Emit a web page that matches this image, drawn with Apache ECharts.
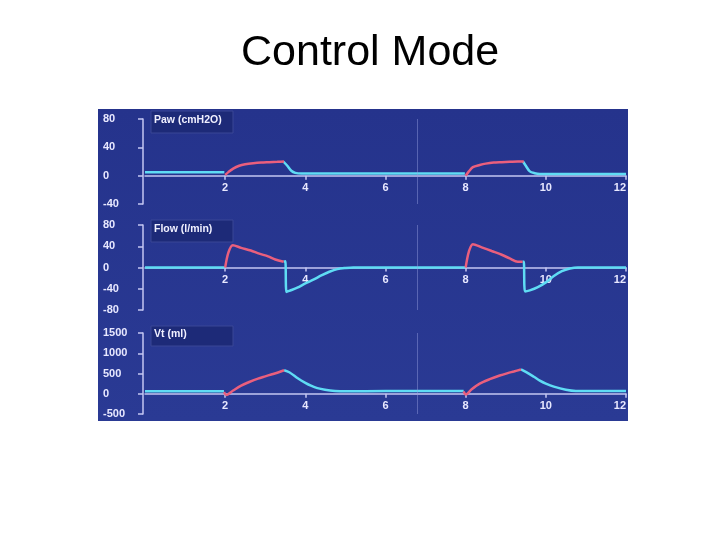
<!DOCTYPE html>
<html>
<head>
<meta charset="utf-8">
<script src="https://cdn.jsdelivr.net/npm/echarts@6/dist/echarts.min.js"></script>
<style>html,body{margin:0;padding:0;background:#fff;}#c{width:720px;height:540px;}</style>
</head>
<body>
<div id="c"></div>
<script>
// ---- data (time in s) ----
const xTicks = [0, 2, 4, 6, 8, 10, 12];

// Paw (cmH2O)
const pawExpT = [0, 1.0, 1.98, null, 3.45, 3.55, 3.65, 3.75, 3.9, 5, 6, 7, 7.98, null, 9.43, 9.5, 9.6, 9.72, 9.85, 11, 12];
const pawExpV = [5, 5, 5, null, 20, 14, 7, 4, 3, 3, 3, 3, 3, null, 20, 14, 6, 3.5, 2.5, 2.5, 2.5];
const pawInsp1T = [2.0, 2.08, 2.2, 2.35, 2.5, 2.7, 2.9, 3.1, 3.3, 3.47];
const pawInsp1V = [1, 5, 10, 14, 16, 17.5, 18.5, 19, 19.5, 20];
const pawInsp2T = [8.0, 8.08, 8.18, 8.35, 8.5, 8.7, 8.9, 9.1, 9.3, 9.45];
const pawInsp2V = [0, 6, 12, 15, 17, 18.5, 19, 19.5, 20, 20];

// Flow (l/min)
const flowExpT = [0, 1.0, 1.99, null, 3.46, 3.5, 3.53, 3.6, 3.8, 4.0, 4.2, 4.4, 4.6, 4.8, 5.0, 5.2, 6, 7, 7.99, null, 9.42, 9.45, 9.48, 9.6, 9.8, 10.0, 10.2, 10.4, 10.6, 10.8, 11.5, 12];
const flowExpV = [0, 0, 0, null, 11, 12, -46, -44, -38, -30, -23, -15, -8, -3, -1, 0, 0, 0, 0, null, 11, 11, -45, -43, -37, -28, -16, -7, -2, 0, 0, 0];
const flowInsp1T = [2.0, 2.08, 2.19, 2.4, 2.64, 2.85, 3.07, 3.25, 3.46];
const flowInsp1V = [0, 28, 42, 37, 32, 26, 21, 15, 11];
const flowInsp2T = [8.0, 8.08, 8.18, 8.4, 8.65, 8.9, 9.1, 9.3, 9.42];
const flowInsp2V = [0, 30, 44, 38, 31, 24, 17, 11, 11];

// Vt (ml)
const vtExpT = [0, 1.0, 1.97, null, 3.47, 3.6, 3.82, 4.0, 4.14, 4.3, 4.49, 4.74, 5.0, 6, 7, 7.95, null, 9.38, 9.5, 9.7, 9.85, 10.0, 10.2, 10.5, 10.75, 11.5, 12];
const vtExpV = [60, 60, 60, null, 580, 530, 375, 270, 200, 140, 100, 70, 60, 65, 70, 70, null, 600, 540, 420, 325, 250, 175, 100, 70, 65, 65];
const vtInsp1T = [1.97, 2.03, 2.2, 2.4, 2.6, 2.82, 3.0, 3.15, 3.3, 3.47];
const vtInsp1V = [40, -30, 80, 200, 290, 375, 430, 475, 520, 580];
const vtInsp2T = [7.95, 8.0, 8.15, 8.35, 8.6, 8.85, 9.05, 9.2, 9.38];
const vtInsp2V = [60, -20, 110, 250, 360, 450, 510, 550, 600];

// axis ranges and labels
const pawTicks = [-40, 0, 40, 80];
const flowTicks = [-80, -40, 0, 40, 80];
const vtTicks = [-500, 0, 500, 1000, 1500];
const panelTitles = ['Paw (cmH2O)', 'Flow (l/min)', 'Vt (ml)'];
const cursorT = 6.78;
const mainTitle = 'Control Mode';

// ---- build ----
function pairs(t, v) { return t.map((x, i) => (x === null ? ['-', '-'] : [x, v[i]])); }

const CYAN = '#5fdcf4', RED = '#ea5f7d', AXIS = '#c4c6f2', LBL = '#e8e8ff';
const grids = [
  { left: 145, width: 481, top: 119, height: 85 },
  { left: 145, width: 481, top: 225, height: 85 },
  { left: 145, width: 481, top: 333, height: 81 }
];
const yRanges = [pawTicks, flowTicks, vtTicks];

const xAxes = grids.map((g, i) => {
  const tk = yRanges[i];
  const lo = tk[0], hi = tk[tk.length - 1];
  return {
    type: 'value', gridIndex: i, min: xTicks[0], max: xTicks[xTicks.length - 1], interval: 2,
    position: 'bottom', offset: -g.height * (0 - lo) / (hi - lo),
    axisLine: { onZero: false, lineStyle: { color: AXIS, width: 1.5 } },
    axisTick: { show: true, length: 4, lineStyle: { color: AXIS, width: 1.5 } },
    axisLabel: { showMinLabel: false, alignMaxLabel: 'right', color: LBL, fontWeight: 'bold', fontSize: 11,
      fontFamily: 'Liberation Sans, Arial', margin: 7 },
    splitLine: { show: false }
  };
});
const yAxes = yRanges.map((tk, i) => ({
  type: 'value', gridIndex: i, min: tk[0], max: tk[tk.length - 1], interval: tk[1] - tk[0], offset: 2,
  axisLine: { show: true, onZero: false, lineStyle: { color: AXIS, width: 1.5 } },
  axisTick: { show: true, length: 5, lineStyle: { color: AXIS, width: 1.5 } },
  axisLabel: { color: LBL, fontWeight: 'bold', fontSize: 11, fontFamily: 'Liberation Sans, Arial', align: 'left', margin: 40,
    formatter: (v) => String(v) },
  splitLine: { show: false }
}));

function line(i, t, v, color, withCursor) {
  const s = {
    type: 'line', xAxisIndex: i, yAxisIndex: i, data: pairs(t, v), showSymbol: false,
    connectNulls: false, smooth: 0.3, lineStyle: { color: color, width: 2.5 }, z: color === RED ? 4 : 3,
    animation: false, silent: true
  };
  if (withCursor) {
    s.markLine = { silent: true, symbol: 'none', label: { show: false },
      lineStyle: { color: 'rgba(150,160,225,0.45)', width: 1, type: 'solid' }, data: [{ xAxis: cursorT }] };
  }
  return s;
}

const series = [
  line(0, pawExpT, pawExpV, CYAN, true), line(0, pawInsp1T, pawInsp1V, RED), line(0, pawInsp2T, pawInsp2V, RED),
  line(1, flowExpT, flowExpV, CYAN, true), line(1, flowInsp1T, flowInsp1V, RED), line(1, flowInsp2T, flowInsp2V, RED),
  line(2, vtExpT, vtExpV, CYAN, true), line(2, vtInsp1T, vtInsp1V, RED), line(2, vtInsp2T, vtInsp2V, RED)
];

const boxTops = [111, 220, 326];
const boxH = [22, 22, 20];
const graphic = [
  { type: 'rect', z: -10, shape: { x: 98, y: 109, width: 530, height: 312 },
    style: { fill: new echarts.graphic.LinearGradient(0, 0, 0, 1, [{ offset: 0, color: '#25338c' }, { offset: 1, color: '#2a3a94' }]) } }
];
panelTitles.forEach((t, i) => {
  graphic.push({ type: 'rect', z: 50, shape: { x: 151, y: boxTops[i], width: 82, height: boxH[i] },
    style: { fill: '#1d2a78', stroke: '#3b4796', lineWidth: 1 } });
  graphic.push({ type: 'text', z: 51, x: 154, y: boxTops[i] + boxH[i] / 2 - 2,
    style: { text: t, fill: '#f0f0ff', font: 'bold 10.5px "Liberation Sans", Arial', textVerticalAlign: 'middle', verticalAlign: 'middle' } });
});

const chart = echarts.init(document.getElementById('c'), null, { renderer: 'canvas' });
chart.setOption({
  backgroundColor: '#ffffff',
  animation: false,
  title: { text: mainTitle, left: 236, top: 27,
    textStyle: { color: '#000', fontSize: 43, fontWeight: 'normal', fontFamily: 'Liberation Sans, Arial' } },
  grid: grids,
  xAxis: xAxes,
  yAxis: yAxes,
  series: series,
  graphic: graphic
});
</script>
</body>
</html>
